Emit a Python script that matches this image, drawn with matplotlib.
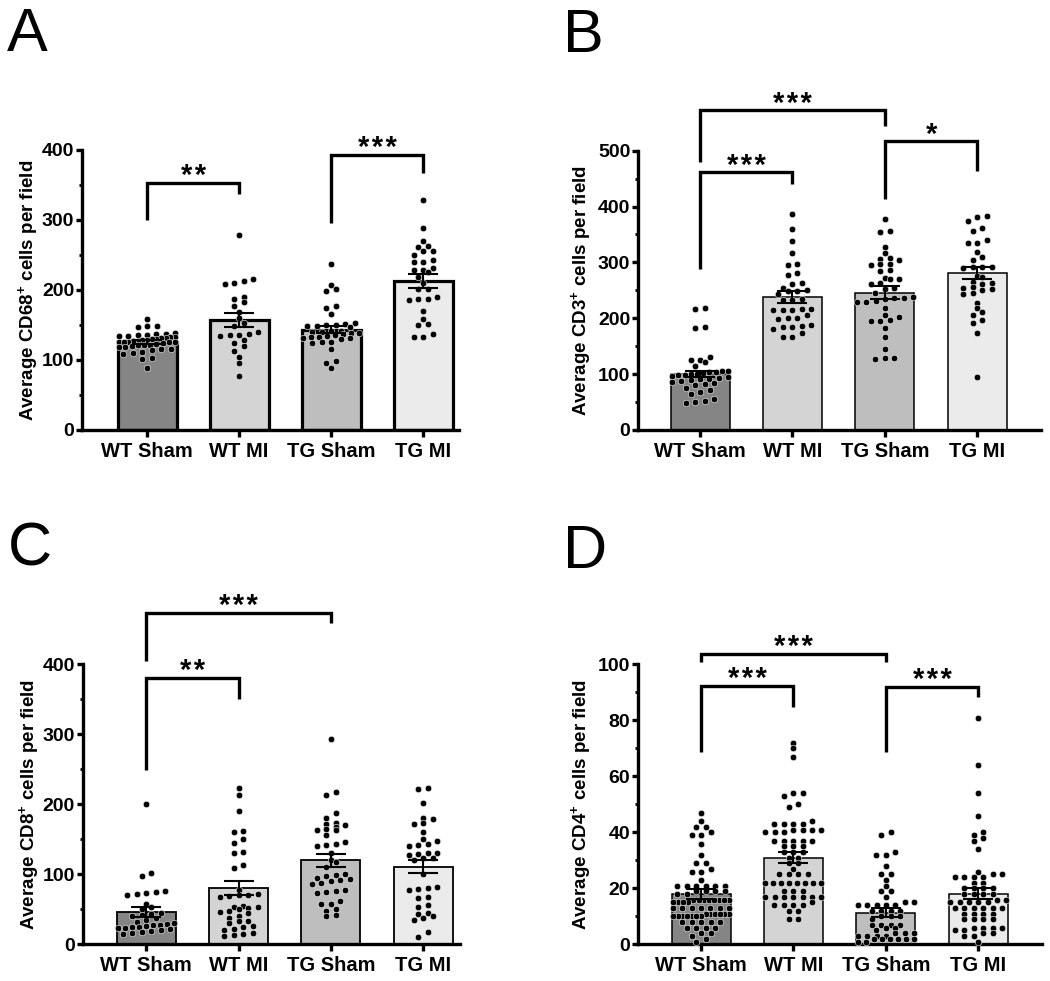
import numpy as np
import matplotlib
matplotlib.use("Agg")
import matplotlib.pyplot as plt
from matplotlib.ticker import MultipleLocator

plt.rcParams['font.family'] = ['Liberation Sans', 'DejaVu Sans']
plt.rcParams['font.weight'] = 'bold'
plt.rcParams['axes.labelweight'] = 'bold'
plt.rcParams['mathtext.fontset'] = 'custom'
plt.rcParams['mathtext.rm'] = 'Liberation Sans:bold'
plt.rcParams['mathtext.bf'] = 'Liberation Sans:bold'
plt.rcParams['mathtext.it'] = 'Liberation Sans:bold'

# ---------------- data ----------------
groups = ['WT Sham', 'WT MI', 'TG Sham', 'TG MI']
bar_colors = ['#858585', '#d4d4d4', '#bebebe', '#ebebeb']

# Panel A: CD68
cd68_means = [126, 157, 143, 213]
cd68_sem = [3, 9.5, 5, 9.5]
cd68_wt_sham = [158, 149, 148, 147, 138, 137, 137, 136, 136, 134, 134, 133, 133, 131, 131, 130,
                130, 129, 128, 127, 127, 126, 126, 126, 125, 125, 124, 123, 122, 121, 121, 120,
                119, 118, 116, 115, 114, 112, 110, 109, 103, 101, 88]
cd68_wt_mi = [279, 215, 213, 210, 208, 190, 187, 183, 177, 168, 160, 153, 148, 140, 137, 136,
              135, 134, 128, 124, 120, 113, 104, 95, 77]
cd68_tg_sham = [237, 207, 201, 199, 177, 174, 165, 153, 151, 150, 150, 149, 148, 147, 142, 141,
                140, 140, 139, 138, 137, 136, 134, 133, 133, 132, 131, 130, 126, 125, 124, 115,
                99, 96, 88]
cd68_tg_mi = [329, 288, 270, 263, 261, 256, 255, 250, 243, 240, 240, 232, 228, 228, 225, 218,
              210, 201, 201, 190, 187, 187, 186, 170, 158, 152, 150, 137, 133, 133]

# Panel B: CD3
cd3_means = [100, 238, 246, 281]
cd3_sem = [6, 10, 11, 11]
cd3_wt_sham = [218, 217, 185, 183, 130, 126, 125, 122, 114, 106, 105, 104, 103, 102, 101, 100,
               99, 98, 97, 95, 93, 92, 91, 90, 88, 86, 84, 83, 80, 76, 72, 68, 64, 56, 52, 50, 49]
cd3_wt_mi = [386, 359, 339, 316, 298, 296, 281, 277, 264, 261, 255, 250, 249, 248, 243, 234,
             233, 232, 217, 216, 215, 215, 214, 206, 201, 200, 199, 188, 186, 185, 184, 180,
             173, 167, 167]
cd3_tg_sham = [378, 356, 355, 327, 316, 308, 306, 305, 298, 297, 296, 286, 284, 272, 271, 270,
               263, 262, 254, 252, 246, 238, 237, 236, 235, 231, 230, 229, 219, 206, 202, 197,
               196, 195, 182, 166, 145, 129, 128, 127]
cd3_tg_mi = [383, 381, 374, 362, 356, 340, 334, 334, 319, 310, 304, 292, 292, 291, 290, 275,
             274, 265, 263, 262, 256, 254, 252, 250, 245, 244, 228, 218, 212, 206, 197, 192,
             174, 94]

# Panel C: CD8
cd8_means = [46, 80, 120, 111]
cd8_sem = [7, 10, 9.5, 9]
cd8_wt_sham = [200, 102, 98, 76, 75, 74, 72, 70, 58, 53, 50, 45, 43, 42, 40, 38, 35, 32, 30,
               29, 28, 27, 26, 25, 25, 24, 23, 22, 20, 19, 18, 16, 15]
cd8_wt_mi = [224, 213, 190, 162, 161, 150, 145, 132, 130, 113, 109, 78, 72, 71, 70, 69, 68, 55,
             54, 53, 52, 50, 47, 46, 45, 40, 38, 34, 33, 30, 26, 25, 22, 20, 16, 15, 13, 12]
cd8_tg_sham = [293, 217, 213, 188, 181, 173, 172, 170, 168, 165, 164, 163, 156, 146, 143, 142,
               141, 130, 120, 117, 110, 100, 99, 98, 95, 93, 92, 91, 88, 86, 78, 76, 75, 74,
               62, 58, 57, 50, 48, 42, 40]
cd8_tg_mi = [224, 222, 202, 181, 179, 173, 172, 161, 150, 148, 143, 142, 141, 131, 130, 129,
             128, 124, 123, 120, 101, 82, 80, 79, 78, 68, 66, 56, 54, 45, 43, 40, 38, 35, 17, 11]

# Panel D: CD4
cd4_means = [18.0, 31.0, 11.2, 18.1]
cd4_sem = [1.8, 2.0, 1.6, 1.9]
cd4_wt_sham = [47, 44, 42, 42, 40, 39, 39, 36, 32, 29, 29, 27, 26, 26, 23, 21, 21, 21, 21, 21,
               21, 19, 19, 19, 19, 18, 18, 16, 16, 16, 16, 16, 16, 16, 16, 15, 15, 15, 15, 13,
               13, 13, 13, 13, 13, 13, 11, 11, 11, 11, 11, 11, 10, 10, 10, 10, 10, 10, 10, 8, 8,
               8, 8, 8, 6, 6, 6, 6, 4, 4, 3, 2, 1]
cd4_wt_mi = [72, 70, 67, 54, 54, 53, 50, 49, 44, 43, 43, 43, 43, 41, 41, 41, 41, 40, 40, 40, 37,
             37, 37, 37, 37, 35, 35, 35, 33, 33, 33, 31, 31, 29, 29, 27, 25, 25, 25, 25, 22, 22,
             22, 22, 22, 22, 22, 22, 19, 19, 19, 17, 17, 17, 17, 17, 17, 17, 15, 14, 14, 14, 14,
             12, 12, 9, 9]
cd4_tg_sham = [40, 39, 33, 32, 32, 28, 25, 25, 23, 21, 19, 19, 17, 15, 15, 14, 14, 14, 14, 14,
               12, 12, 12, 12, 10, 10, 10, 9, 7, 7, 7, 7, 6, 6, 5, 4, 4, 4, 3, 3, 3, 3, 2, 2, 2,
               2, 2, 2, 1, 1]
cd4_tg_mi = [81, 64, 54, 46, 40, 39, 38, 37, 34, 26, 25, 25, 24, 24, 24, 24, 22, 22, 20, 20, 20,
             20, 18, 18, 18, 18, 16, 16, 15, 15, 15, 15, 15, 13, 13, 13, 13, 13, 13, 11, 11, 11,
             11, 9, 9, 9, 9, 6, 6, 6, 6, 5, 5, 4, 4, 3, 3, 1]

# ---------------- layout ----------------
W, H = 1050, 981
fig = plt.figure(figsize=(W / 100, H / 100), dpi=100)


def add_axes_px(left, right, top, bottom):
    return fig.add_axes([left / W, 1 - bottom / H, (right - left) / W, (bottom - top) / H])


def row_scatter_x(ax, xc, vals, row_px=5.5, gap_px=9.5, max_span_px=56):
    """GraphPad-like scatter: points in rows, rows centred on the column."""
    vals = np.asarray(vals, dtype=float)
    ypix = ax.transData.transform(np.column_stack([np.full(len(vals), xc), vals]))[:, 1]
    ppu = ax.transData.transform([[1, 0]])[0, 0] - ax.transData.transform([[0, 0]])[0, 0]
    order = np.argsort(ypix)
    offs = np.zeros(len(vals))
    rows = []
    cur = []
    start = None
    for idx in order:
        if start is None or ypix[idx] - start < row_px:
            if start is None:
                start = ypix[idx]
            cur.append(idx)
        else:
            rows.append(cur)
            cur = [idx]
            start = ypix[idx]
    if cur:
        rows.append(cur)
    for row in rows:
        n = len(row)
        if n == 1:
            continue
        sp = min(gap_px, max_span_px / (n - 1))
        for k, idx in enumerate(row):
            offs[idx] = (k - (n - 1) / 2) * sp
    return xc + offs / ppu


panels = [
    dict(letter='A', rect=(82, 459, 150, 430), xlim=(-0.707, 3.39), ylim=(0, 400), major=100,
         minor=50, means=cd68_means, sem=cd68_sem,
         pts=[cd68_wt_sham, cd68_wt_mi, cd68_tg_sham, cd68_tg_mi], edge=2.3,
         ylabel=r'Average CD68$^{+}$ cells per field', letter_xy=(7, 51),
         brackets=[(0, 1, 353, 300, 337, '**'), (2, 3, 393, 296, 367, '***')]),
    dict(letter='B', rect=(638, 1041, 150.7, 430), xlim=(-0.672, 3.69), ylim=(0, 500), major=100,
         minor=50, means=cd3_means, sem=cd3_sem,
         pts=[cd3_wt_sham, cd3_wt_mi, cd3_tg_sham, cd3_tg_mi], edge=1.1,
         ylabel=r'Average CD3$^{+}$ cells per field', letter_xy=(563, 52),
         brackets=[(0, 1, 461, 288, 441, '***'), (0, 2, 572, 480, 544, '***'),
                   (2, 3, 517, 413, 463, '*')]),
    dict(letter='C', rect=(82.7, 460, 664.3, 944.3), xlim=(-0.69, 3.40), ylim=(0, 400), major=100,
         minor=50, means=cd8_means, sem=cd8_sem,
         pts=[cd8_wt_sham, cd8_wt_mi, cd8_tg_sham, cd8_tg_mi], edge=1.3,
         ylabel=r'Average CD8$^{+}$ cells per field', letter_xy=(8, 566),
         brackets=[(0, 1, 381, 249, 350, '**'), (0, 2, 474, 405, 459, '***')]),
    dict(letter='D', rect=(638, 1042, 664.3, 944.3), xlim=(-0.683, 3.69), ylim=(0, 100), major=20,
         minor=10, means=cd4_means, sem=cd4_sem,
         pts=[cd4_wt_sham, cd4_wt_mi, cd4_tg_sham, cd4_tg_mi], edge=1.1,
         ylabel=r'Average CD4$^{+}$ cells per field', letter_xy=(563, 568),
         brackets=[(0, 1, 92.3, 68.8, 84.6, '***'), (0, 2, 103.7, 100.7, 100.7, '***'),
                   (2, 3, 92, 68.8, 88.5, '***')]),
]

x = np.arange(len(groups))
for p in panels:
    ax = add_axes_px(*p['rect'])
    ax.set_xlim(*p['xlim'])
    ax.set_ylim(*p['ylim'])
    ax.bar(x, p['means'], width=0.64, color=bar_colors, edgecolor='black',
           linewidth=p['edge'], zorder=1)
    for i, vals in enumerate(p['pts']):
        xs = row_scatter_x(ax, x[i], vals)
        ax.scatter(xs, vals, s=22, color='black', edgecolor='white', linewidth=0.4,
                   zorder=3, clip_on=False)
    ax.errorbar(x, p['means'], yerr=p['sem'], fmt='none', ecolor='black', elinewidth=1.5,
                capsize=10.5, capthick=1.5, zorder=4)
    for (i, j, yt, yl, yr, lab) in p['brackets']:
        ax.plot([i, i, j, j], [yl, yt, yt, yr], color='black', lw=2.4, clip_on=False,
                solid_joinstyle='miter', solid_capstyle='butt', zorder=5)
        ax.annotate('\u200a'.join(lab), xy=((i + j) / 2, yt), xytext=(0, -1),
                    textcoords='offset points', ha='center', va='baseline', fontsize=21,
                    fontweight='bold', annotation_clip=False)
    for side in ['top', 'right']:
        ax.spines[side].set_visible(False)
    for side in ['left', 'bottom']:
        ax.spines[side].set_linewidth(2.4)
    ax.yaxis.set_major_locator(MultipleLocator(p['major']))
    ax.yaxis.set_minor_locator(MultipleLocator(p['minor']))
    ax.set_xticks(x)
    ax.set_xticklabels(groups)
    ax.tick_params(axis='y', which='major', length=4, width=2.4, pad=1.5, labelsize=14)
    ax.tick_params(axis='y', which='minor', length=2.5, width=2.0)
    ax.tick_params(axis='x', which='major', length=5, width=2.4, pad=3.5, labelsize=14.5)
    ax.set_ylabel(p['ylabel'], fontsize=13.5, va='center')
    ax.yaxis.set_label_coords(-0.142, 0.5)
    lx, ly = p['letter_xy']
    fig.text(lx / W, 1 - ly / H, p['letter'], fontsize=44, fontweight='normal',
             va='baseline', ha='left')

fig.savefig('out.png', dpi=100)
